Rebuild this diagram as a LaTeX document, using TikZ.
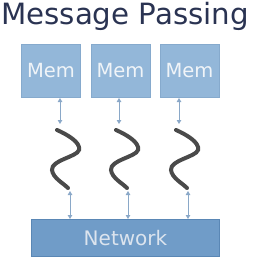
\documentclass[tikz,border=0pt]{standalone}
\usepackage{fontspec}
\setmainfont{DejaVu Sans}
\usetikzlibrary{arrows.meta}
\definecolor{titlec}{HTML}{2A3352}
\definecolor{memfill}{HTML}{93B7D9}
\definecolor{memdraw}{HTML}{86AACD}
\definecolor{netfill}{HTML}{709CC8}
\definecolor{netdraw}{HTML}{5A87B5}
\definecolor{arrc}{HTML}{8AA8C8}
\definecolor{wirec}{HTML}{4A4A4A}
\definecolor{memtext}{HTML}{F0F4F8}
\definecolor{nettext}{HTML}{DCE4EE}
\begin{document}
\begin{tikzpicture}[x=1pt,y=-1pt,
  membox/.style={draw=memdraw,fill=memfill,line width=1pt,minimum width=59pt,minimum height=53pt,inner sep=0pt,text=memtext,font=\fontsize{19.5}{20}\selectfont},
  netbox/.style={draw=netdraw,fill=netfill,line width=1pt,minimum width=188pt,minimum height=37pt,inner sep=0pt,text=nettext,font=\fontsize{20}{21}\selectfont},
  link/.style={draw=arrc,line width=1pt,{Triangle[width=4.5pt,length=4pt]}-{Triangle[width=4.5pt,length=4pt]}},
  wire/.style={draw=wirec,line width=4pt,line cap=round}]
\useasboundingbox (0,0) rectangle (261,267);
\node[anchor=base west,inner sep=0pt,text=titlec,font=\fontsize{29.3}{30}\selectfont] (title) at (1,25) {Message Passing};
\node[membox] (m1) at (51,71) {Mem};
\node[membox] (m2) at (120.5,71) {Mem};
\node[membox] (m3) at (189.5,71) {Mem};
\node[netbox] (net) at (125.5,238) {Network};
\foreach \i/\ux/\lx in {1/60/70,2/119/128,3/179/188}{
  \coordinate (u\i) at (\ux,124);
  \coordinate (l\i) at (\lx,191);
  \draw[link] (u\i |- m\i.south) -- (u\i);
  \draw[link] (l\i) -- (l\i |- net.north);
  \begin{scope}[shift={(\ux-60,0)}]
  \draw[wire] (57,130) .. controls (66,134) and (81,142) .. (79,150)
     .. controls (77,157) and (51,160) .. (52,170)
     .. controls (53,178) and (63,183) .. (68,188);
  \end{scope}
}
\end{tikzpicture}
\end{document}
